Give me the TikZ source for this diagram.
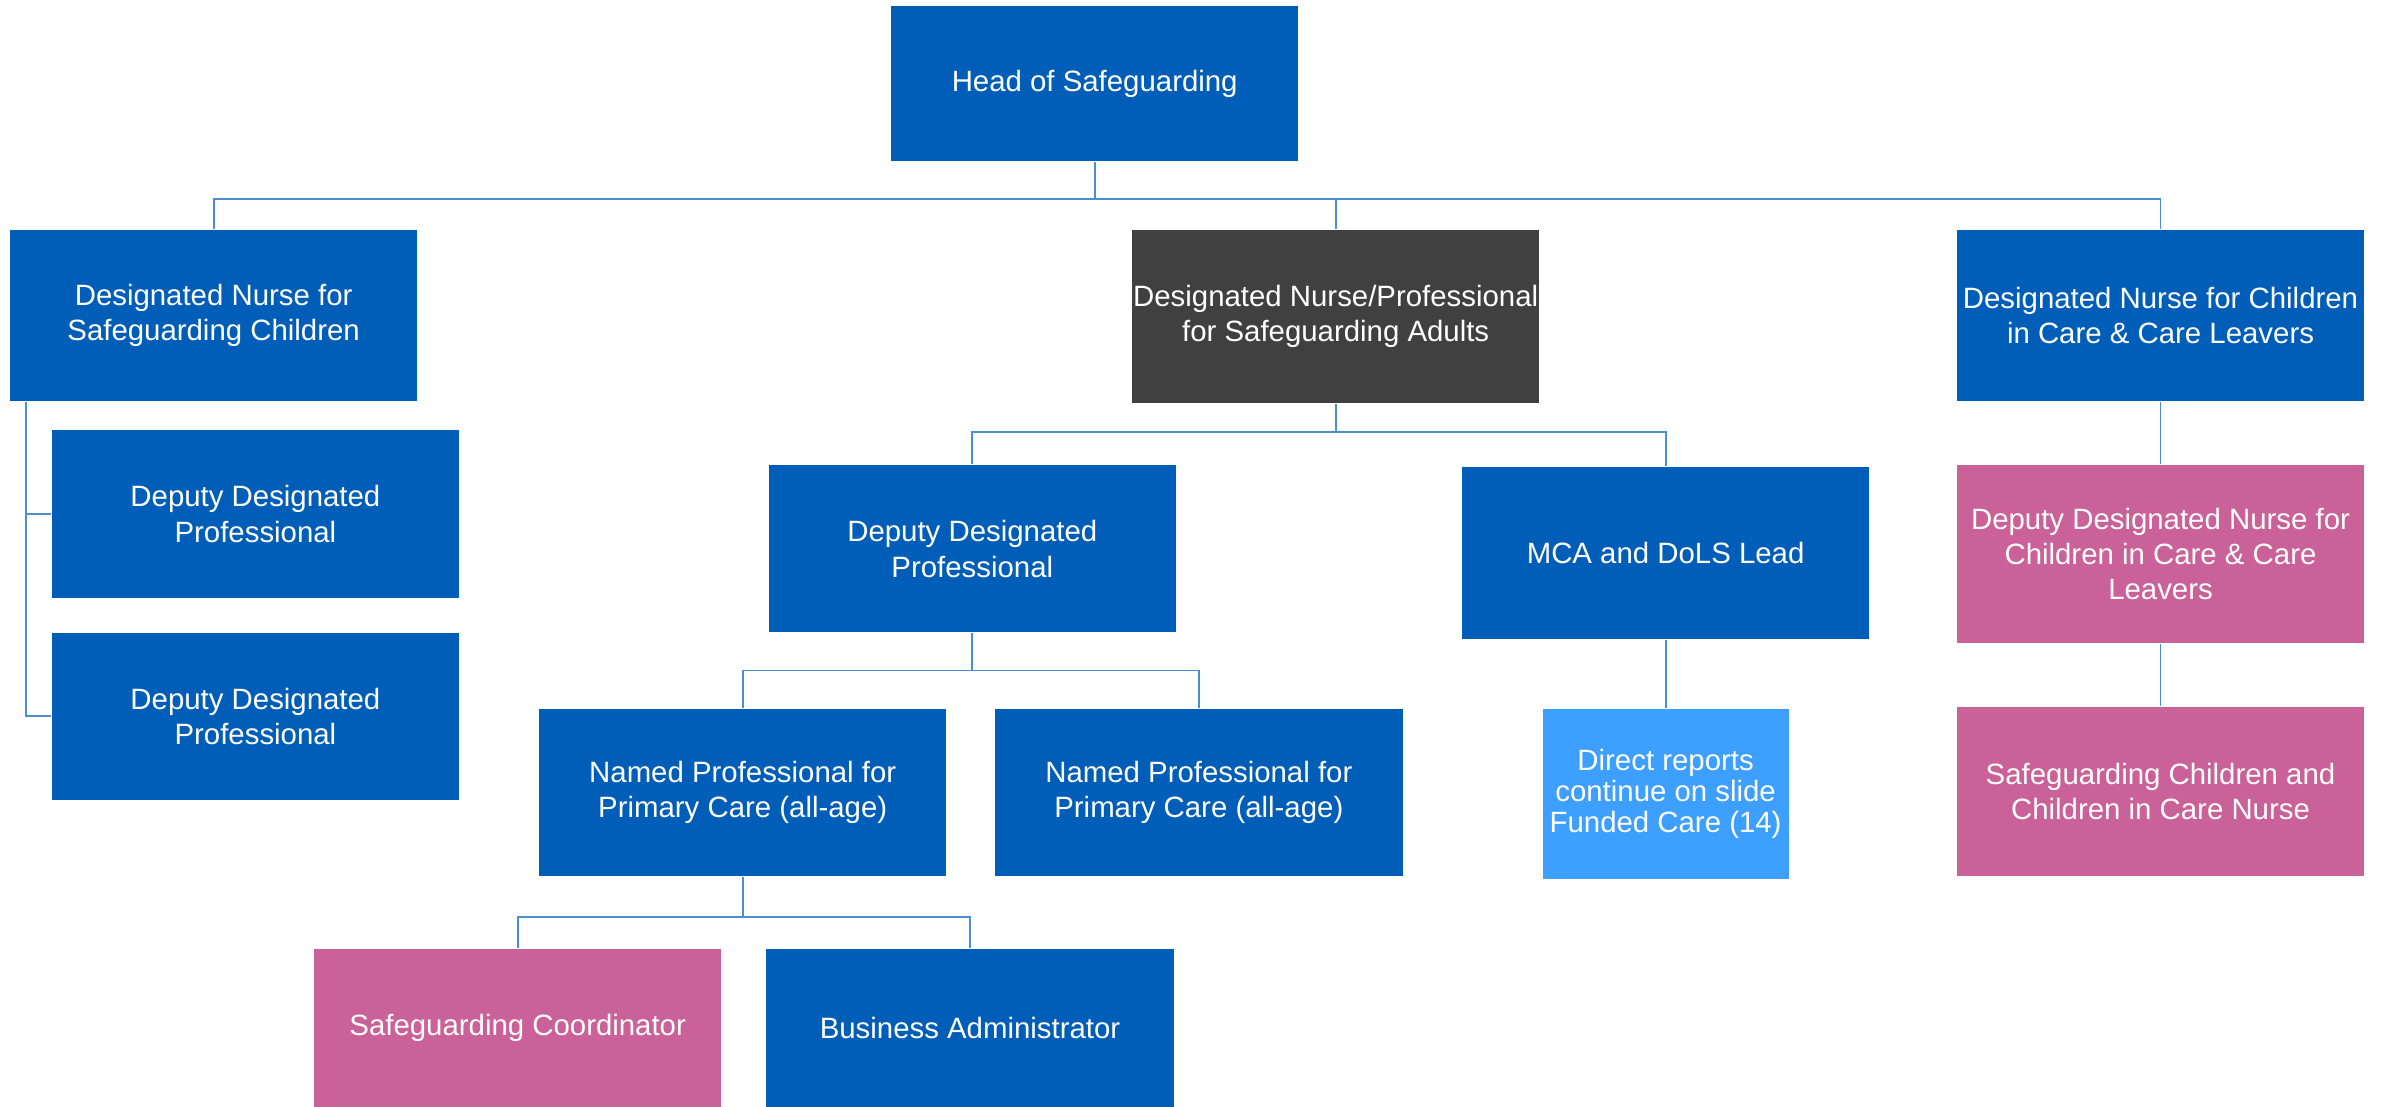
\documentclass[tikz,border=0pt]{standalone}
\usepackage{fontspec}
\setmainfont{Liberation Sans}
\usetikzlibrary{positioning}
\definecolor{nhsblue}{HTML}{005EB8}
\definecolor{darkbox}{HTML}{404040}
\definecolor{pinkbox}{HTML}{CA6198}
\definecolor{lightbox}{HTML}{3D9FFF}
\definecolor{linkblue}{HTML}{4A90D0}

\begin{document}
\begin{tikzpicture}[x=0.02cm,y=-0.02cm,
line width=0.7pt]
\tikzstyle{box}=[rectangle,fill=nhsblue,text=white,minimum width=5.36cm,minimum height=2.2cm,inner sep=0pt,align=center,font=\fontsize{11}{13.2}\selectfont]
\tikzstyle{pink}=[box,fill=pinkbox]
\tikzstyle{link}=[draw=linkblue]
\useasboundingbox (0,0) rectangle (1568,728);

\node[box,minimum height=2.04cm]            (head)  at (720,55)     {Head of Safeguarding};
\node[box,minimum height=2.26cm]            (dnc)   at (140.5,207.5) {Designated Nurse for\\Safeguarding Children};
\node[box,fill=darkbox,minimum height=2.28cm] (dna) at (878.5,208)   {Designated Nurse/Professional\\for Safeguarding Adults};
\node[box,minimum height=2.26cm]            (dncc)  at (1421,207.5)  {Designated Nurse for Children\\in Care \& Care Leavers};
\node[box]                                  (dep1)  at (168,338)     {Deputy Designated\\Professional};
\node[box]                                  (dep2)  at (168,471)     {Deputy Designated\\Professional};
\node[box]                                  (ddp)   at (639.5,361)   {Deputy Designated\\Professional};
\node[box,minimum height=2.26cm]            (mca)   at (1095.5,363.5) {MCA and DoLS Lead};
\node[box]                                  (np1)   at (488.5,521)   {Named Professional for\\Primary Care (all-age)};
\node[box]                                  (np2)   at (788.5,521)   {Named Professional for\\Primary Care (all-age)};
\node[box,fill=lightbox,minimum width=3.24cm,minimum height=2.24cm,font=\fontsize{11}{11.7}\selectfont] (drep) at (1095.5,522) {Direct reports\\continue on slide\\Funded Care (14)};
\node[pink,minimum height=2.08cm]           (sc)    at (340.5,676)   {Safeguarding Coordinator};
\node[box,minimum height=2.08cm]            (ba)    at (638,676)     {Business Administrator};
\node[pink,minimum height=2.34cm]           (ddncc) at (1421,364.5)  {Deputy Designated Nurse for\\Children in Care \& Care\\Leavers};
\node[pink,minimum height=2.22cm]           (sccn)  at (1421,520.5)  {Safeguarding Children and\\Children in Care Nurse};

\coordinate (hbus) at (720,131);
\coordinate (abus) at (878.5,284);
\coordinate (dbus) at (639.5,441);
\coordinate (nbus) at (488.5,603);

\draw[link] (head.south) -- (hbus) -| (dnc.north);
\draw[link] (hbus) -| (dna.north);
\draw[link] (hbus) -| (dncc.north);
\draw[link] ([xshift=0.22cm]dnc.south west) |- (dep1.west);
\draw[link] ([xshift=0.22cm]dnc.south west) |- (dep2.west);
\draw[link] (dna.south) -- (abus) -| (ddp.north);
\draw[link] (abus) -| (mca.north);
\draw[link] (mca.south) -- (drep.north);
\draw[link] (ddp.south) -- (dbus) -| (np1.north);
\draw[link] (dbus) -| (np2.north);
\draw[link] (np1.south) -- (nbus) -| (sc.north);
\draw[link] (nbus) -| (ba.north);
\draw[link] (dncc) -- (ddncc);
\draw[link] (ddncc) -- (sccn);
\end{tikzpicture}
\end{document}
